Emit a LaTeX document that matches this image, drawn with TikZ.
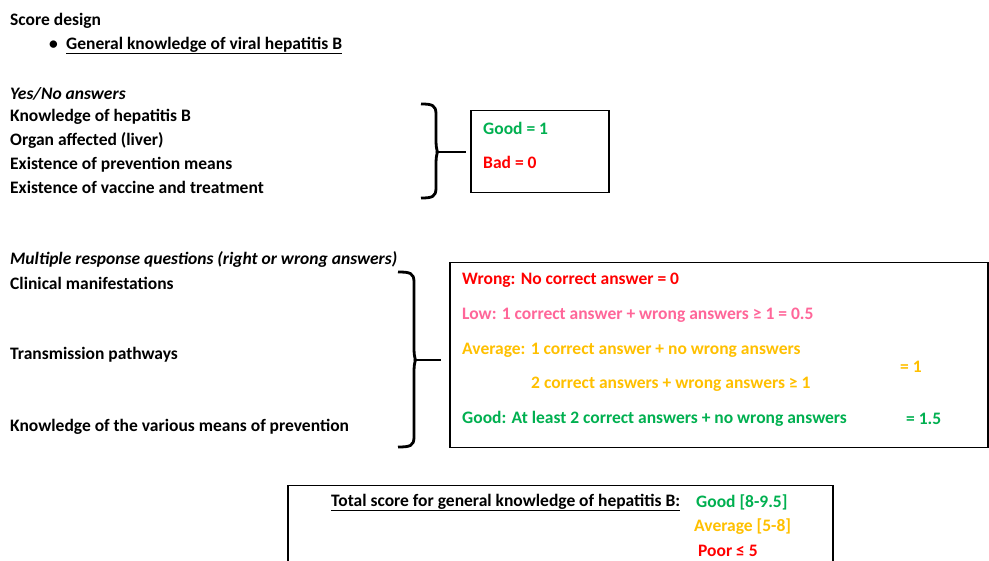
\documentclass[tikz,border=0pt]{standalone}
\usepackage{fontspec}
\setmainfont{Carlito}
\usetikzlibrary{calc}
\begin{document}
\definecolor{cgreen}{HTML}{00B050}
\definecolor{cred}{HTML}{FF0000}
\definecolor{cpink}{HTML}{FF6699}
\definecolor{corange}{HTML}{FFC000}
\begin{tikzpicture}[x=1pt,y=-1pt,
  txt/.style={anchor=west,inner sep=0pt,yshift=-1.5pt,font=\fontsize{17.5}{20}\selectfont\bfseries},
  itx/.style={txt,font=\fontsize{17.5}{20}\selectfont\bfseries\itshape},
  box/.style={draw=black,line width=1.5pt,anchor=north west,inner sep=0pt},
  brace/.style={draw=black,line width=2.8pt,line cap=butt}]
\clip (0,0) rectangle (989,561);
\fill[white] (0,0) rectangle (989,561);
% header
\node[txt] (title) at (10,19) {Score design};
\node[txt] (bul) at (49,44) {\textbullet};
\node[txt] (gen) at (66,44) {\underline{General knowledge of viral hepatitis B}};
% yes/no block
\node[itx] (yn) at (10,92) {Yes/No answers};
\node[txt] (k1) at (10,115) {Knowledge of hepatitis B};
\node[txt] (k2) at (10,139) {Organ affected (liver)};
\node[txt] (k3) at (10,163) {Existence of prevention means};
\node[txt] (k4) at (10,186) {Existence of vaccine and treatment};
\node[box,minimum width=138pt,minimum height=82pt] (b1) at (470,110) {};
\node[txt,text=cgreen] (good1) at (483,127) {Good = 1};
\node[txt,text=cred] (bad1) at (483,161) {Bad = 0};
\coordinate (br1) at (437,152);
\draw[brace] (421,104) .. controls (432,104) and (436,105) .. (436,114)
  -- (436,142) .. controls (436,149) and (438,152) .. (br1)
  .. controls (438,152) and (436,155) .. (436,162)
  -- (436,188) .. controls (436,197) and (432,198) .. (421,198);
\draw[brace] (br1) -- ($(br1 -| b1.west)+(-4,0)$);
% multiple response block
\node[itx] (mr) at (10,258) {Multiple response questions (right or wrong answers)};
\node[txt] (m1) at (10,282) {Clinical manifestations};
\node[txt] (m2) at (10,353) {Transmission pathways};
\node[txt] (m3) at (10,425) {Knowledge of the various means of prevention};
\node[box,minimum width=538pt,minimum height=185pt] (b2) at (449,262) {};
\node[txt,text=cred] (w) at (462,279) {Wrong: No correct answer = 0};
\node[txt,text=cpink] (lo) at (462,314) {Low: 1 correct answer + wrong answers ≥ 1 = 0.5};
\node[txt,text=corange] (av1) at (462,349) {Average: 1 correct answer + no wrong answers};
\node[txt,text=corange] (av2) at (531,383) {2 correct answers + wrong answers ≥ 1};
\node[txt,text=corange] (av3) at (900,365) {= 1};
\node[txt,text=cgreen] (gd) at (462,417) {Good: At least 2 correct answers + no wrong answers};
\node[txt,text=cgreen] (gd2) at (906,417) {= 1.5};
\coordinate (br2) at (415,360);
\draw[brace] (398,272) .. controls (410,272) and (414,273) .. (414,282)
  -- (414,350) .. controls (414,357) and (416,360) .. (br2)
  .. controls (416,360) and (414,363) .. (414,370)
  -- (414,437) .. controls (414,446) and (410,447) .. (398,447);
\draw[brace] (br2) -- ($(br2 -| b2.west)+(-8,0)$);
% total
\node[box,minimum width=545pt,minimum height=100pt] (b3) at (287,485) {};
\node[txt] (tot) at (331,501) {\underline{Total score for general knowledge of hepatitis B:}};
\node[txt,text=cgreen] (tg) at (696,501) {Good [8-9.5]};
\node[txt,text=corange] (ta) at (694,525) {Average [5-8]};
\node[txt,text=cred] (tp) at (698,549) {Poor ≤ 5};
\end{tikzpicture}
\end{document}
